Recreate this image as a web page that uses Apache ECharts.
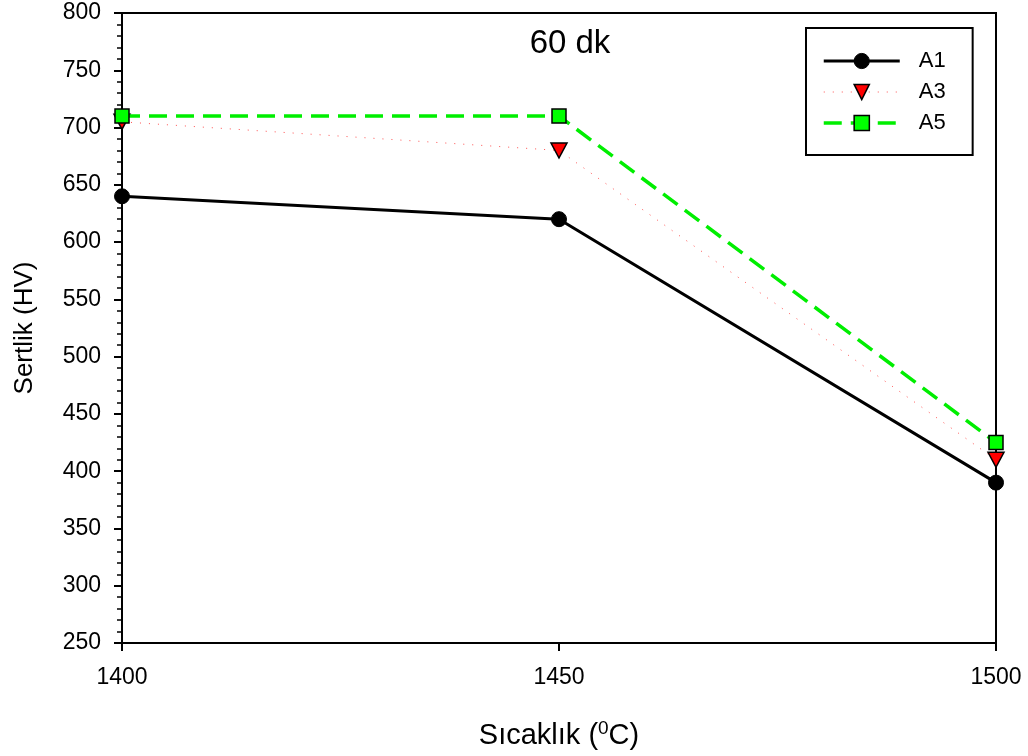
<!DOCTYPE html>
<html>
<head>
<meta charset="utf-8">
<script src="https://cdn.jsdelivr.net/npm/echarts@6/dist/echarts.min.js"></script>
<style>
  html, body { margin: 0; padding: 0; background: #fff; }
  #chart { width: 1028px; height: 756px; }
</style>
</head>
<body>
<div id="chart"></div>
<script>
// Hardness vs. temperature, 60 min
const temperatures = [1400, 1450, 1500];
const seriesNames = ['A1', 'A3', 'A5'];
const a1Values = [640, 620, 390];
const a3Values = [705, 680, 410];
const a5Values = [710, 710, 425];
const yTicks = { min: 250, max: 800, step: 50 };
const xTicks = { min: 1400, max: 1500, step: 50 };

const FONT = '"Liberation Sans", Arial, sans-serif';

const styles = {
  A1: {
    symbol: 'circle', symbolSize: 15, symbolRotate: 0,
    line: { color: '#000', width: 3, type: 'solid' },
    item: { color: '#000', borderColor: '#000', borderWidth: 1 }
  },
  A3: {
    symbol: 'triangle', symbolSize: [16, 15], symbolRotate: 180,
    line: { color: '#ff5050', width: 1, type: [1, 8] },
    item: { color: '#ff0000', borderColor: '#000', borderWidth: 1.5 }
  },
  A5: {
    symbol: 'rect', symbolSize: 14, symbolRotate: 0,
    line: { color: '#00ee00', width: 3.5, type: [18, 9] },
    item: { color: '#00ff00', borderColor: '#000', borderWidth: 1.5 }
  }
};
const valuesByName = { A1: a1Values, A3: a3Values, A5: a5Values };

function pairs(xs, ys) { return xs.map((x, i) => [x, ys[i]]); }

const chart = echarts.init(document.getElementById('chart'), null, { renderer: 'canvas' });

chart.setOption({
  backgroundColor: '#ffffff',
  animation: false,
  title: {
    text: '60 dk',
    left: 565, top: 22,
    textAlign: 'center',
    textStyle: { fontFamily: FONT, fontSize: 33, fontWeight: 'normal', color: '#000' }
  },
  legend: {
    orient: 'vertical',
    left: 806, top: 28,
    width: 166,
    padding: [22, 27, 21, 16],
    itemGap: 9,
    itemWidth: 76,
    itemHeight: 19,
    borderColor: '#000',
    borderWidth: 2,
    backgroundColor: '#fff',
    textStyle: { fontFamily: FONT, fontSize: 22, color: '#000', padding: [0, 0, 0, 14] },
    data: seriesNames.map(n => ({ name: n, lineStyle: styles[n].line, itemStyle: styles[n].item }))
  },
  grid: {
    left: 122, right: 32, top: 13, bottom: 113,
    containLabel: false,
    outerBoundsMode: 'none',
    show: true, borderColor: '#000', borderWidth: 2, backgroundColor: 'transparent'
  },
  xAxis: {
    type: 'value',
    min: xTicks.min, max: xTicks.max, interval: xTicks.step,
    name: 'Sıcaklık ({sup|0}C)',
    nameLocation: 'middle',
    nameGap: 76,
    nameTextStyle: {
      fontFamily: FONT, fontSize: 29, color: '#000',
      rich: { sup: { fontFamily: FONT, fontSize: 19, color: '#000', verticalAlign: 'top', padding: [0, 0, 14, 0] } }
    },
    axisLine: { show: true, lineStyle: { color: '#000', width: 2 } },
    axisTick: { show: true, inside: false, length: 8, lineStyle: { color: '#000', width: 2 } },
    minorTick: { show: false },
    splitLine: { show: false },
    axisLabel: { fontFamily: FONT, fontSize: 23, color: '#000', margin: 23, formatter: v => String(v) }
  },
  yAxis: {
    type: 'value',
    min: yTicks.min, max: yTicks.max, interval: yTicks.step,
    name: 'Sertlik (HV)',
    nameLocation: 'middle',
    nameGap: 84,
    nameTextStyle: { fontFamily: FONT, fontSize: 26, color: '#000' },
    axisLine: { show: true, lineStyle: { color: '#000', width: 2 } },
    axisTick: { show: true, inside: false, length: 8, lineStyle: { color: '#000', width: 2 } },
    minorTick: { show: true, splitNumber: 5, length: 5, lineStyle: { color: '#000', width: 1.5 } },
    splitLine: { show: false },
    axisLabel: { fontFamily: FONT, fontSize: 23, color: '#000', margin: 21, formatter: v => String(v) }
  },
  series: seriesNames.map((n, i) => ({
    name: n, type: 'line',
    data: pairs(temperatures, valuesByName[n]),
    symbol: styles[n].symbol,
    symbolSize: styles[n].symbolSize,
    symbolRotate: styles[n].symbolRotate,
    lineStyle: styles[n].line,
    itemStyle: styles[n].item,
    z: 3 + i
  }))
});
</script>
</body>
</html>
